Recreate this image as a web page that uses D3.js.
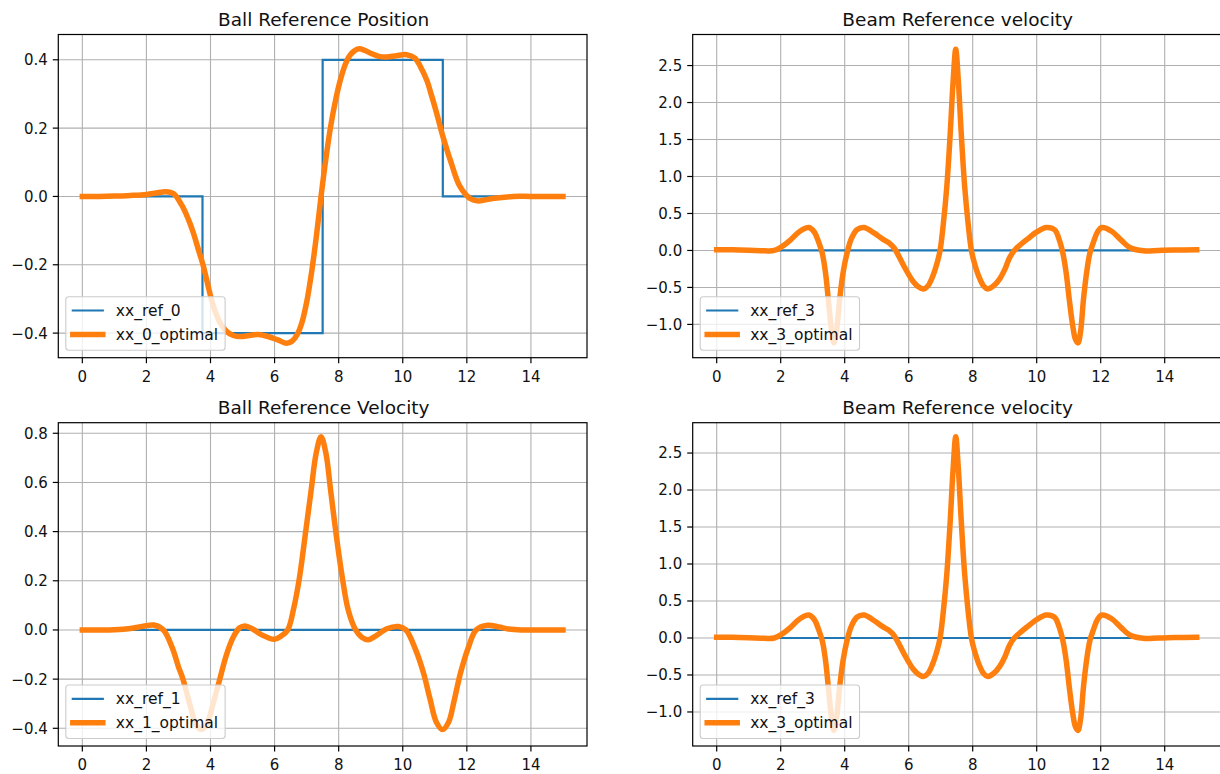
<!DOCTYPE html>
<html>
<head>
<meta charset="utf-8">
<script src="https://cdn.jsdelivr.net/npm/d3@7"></script>
<style>
  html, body { margin: 0; padding: 0; background: #ffffff; }
  svg { display: block; font-family: "DejaVu Sans", sans-serif; }
</style>
</head>
<body>
<svg id="fig" width="1220" height="774"></svg>
<script>
// ---- shared axis ticks ----
const timeTicks = [0, 2, 4, 6, 8, 10, 12, 14];
const posTicks = [-0.4, -0.2, 0.0, 0.2, 0.4];
const velTicks = [-0.4, -0.2, 0.0, 0.2, 0.4, 0.6, 0.8];
const beamTicks = [-1.0, -0.5, 0.0, 0.5, 1.0, 1.5, 2.0, 2.5];

// ---- ball position reference (piecewise constant) ----
const refPosT = [0, 3.75, 7.5, 11.25, 15];
const refPosV = [0, -0.4, 0.4, 0, 0];

// ---- flat references for the velocity states ----
const refFlatT = [0, 15];
const refFlatV = [0, 0];

// ---- optimal ball position ----
const optPosT = [0, 0.5, 1.0, 1.5, 2.0, 2.3, 2.6, 2.85, 3.1, 3.3, 3.46, 3.62, 3.78, 3.92, 4.04, 4.18, 4.3, 4.5, 4.71, 5.0, 5.25, 5.5, 5.8, 6.1, 6.38, 6.55, 6.7, 6.85, 7.0, 7.15, 7.3, 7.45, 7.6, 7.75, 7.9, 8.05, 8.2, 8.35, 8.5, 8.65, 8.8, 8.98, 9.25, 9.5, 9.8, 10.12, 10.38, 10.55, 10.75, 10.9, 11.06, 11.27, 11.53, 11.78, 12.1, 12.36, 12.8, 13.45, 14.0, 15.0];
const optPosV = [0, 0, 0.001, 0.003, 0.006, 0.01, 0.014, 0.008, -0.025, -0.065, -0.105, -0.155, -0.205, -0.26, -0.305, -0.345, -0.37, -0.395, -0.407, -0.41, -0.406, -0.404, -0.41, -0.42, -0.43, -0.423, -0.405, -0.37, -0.31, -0.225, -0.12, 0.0, 0.11, 0.205, 0.28, 0.34, 0.385, 0.413, 0.427, 0.432, 0.428, 0.42, 0.41, 0.408, 0.412, 0.415, 0.405, 0.38, 0.34, 0.295, 0.243, 0.17, 0.093, 0.03, -0.006, -0.013, -0.006, 0, 0, 0];

// ---- optimal ball velocity ----
const optVelT = [0, 0.5, 1.0, 1.5, 1.9, 2.23, 2.53, 2.8, 3.0, 3.14, 3.35, 3.55, 3.71, 3.88, 4.08, 4.29, 4.5, 4.72, 4.9, 5.08, 5.3, 5.6, 5.99, 6.2, 6.41, 6.6, 6.78, 6.95, 7.14, 7.3, 7.45, 7.6, 7.75, 7.93, 8.11, 8.3, 8.53, 8.72, 8.92, 9.15, 9.5, 9.87, 10.1, 10.4, 10.65, 10.85, 11.05, 11.24, 11.43, 11.6, 11.8, 12.05, 12.29, 12.65, 13.0, 13.3, 13.7, 14.3, 15.0];
const optVelV = [0, 0, 0.001, 0.006, 0.015, 0.02, 0.0, -0.07, -0.15, -0.2, -0.3, -0.385, -0.405, -0.385, -0.3, -0.2, -0.1, -0.027, 0.008, 0.016, 0.005, -0.02, -0.038, -0.025, 0.0, 0.09, 0.216, 0.38, 0.567, 0.72, 0.786, 0.72, 0.567, 0.38, 0.216, 0.08, 0.0, -0.03, -0.04, -0.025, 0.005, 0.014, 0.0, -0.08, -0.176, -0.28, -0.375, -0.405, -0.375, -0.29, -0.176, -0.07, 0.0, 0.019, 0.012, 0.004, 0.0, 0.0, 0.0];

// ---- optimal beam velocity ----
const optBeamT = [0, 0.5, 1.0, 1.5, 1.8, 2.03, 2.3, 2.6, 2.88, 3.05, 3.18, 3.3, 3.4, 3.49, 3.58, 3.66, 3.74, 3.84, 3.95, 4.07, 4.2, 4.38, 4.6, 4.9, 5.2, 5.42, 5.55, 5.67, 5.9, 6.14, 6.3, 6.46, 6.6, 6.75, 6.88, 6.98, 7.08, 7.19, 7.3, 7.39, 7.47, 7.55, 7.64, 7.75, 7.86, 7.96, 8.06, 8.19, 8.34, 8.47, 8.65, 8.85, 9.0, 9.15, 9.3, 9.5, 9.7, 10.0, 10.3, 10.56, 10.7, 10.82, 10.92, 11.02, 11.12, 11.21, 11.29, 11.37, 11.46, 11.56, 11.66, 11.78, 11.9, 12.04, 12.34, 12.64, 12.91, 13.33, 13.8, 14.3, 15.0];
const optBeamV = [0.01, 0.01, 0.004, -0.005, 0.0, 0.05, 0.14, 0.26, 0.31, 0.25, 0.12, -0.04, -0.3, -0.67, -1.05, -1.25, -1.1, -0.67, -0.3, -0.04, 0.15, 0.28, 0.31, 0.24, 0.15, 0.09, 0.03, -0.06, -0.25, -0.42, -0.49, -0.52, -0.48, -0.35, -0.18, 0.0, 0.35, 0.86, 1.6, 2.3, 2.72, 2.3, 1.6, 0.86, 0.35, 0.0, -0.18, -0.35, -0.48, -0.52, -0.48, -0.38, -0.26, -0.1, 0.0, 0.08, 0.15, 0.25, 0.31, 0.28, 0.15, -0.04, -0.3, -0.67, -1.0, -1.2, -1.25, -1.1, -0.67, -0.3, -0.04, 0.12, 0.25, 0.31, 0.26, 0.14, 0.04, -0.005, 0.0, 0.005, 0.01];

const BLUE = "#1f77b4", ORANGE = "#ff7f0e";

const panels = [
  { title: "Ball Reference Position", left: 58.3, right: 587, top: 34.5, bottom: 357.7,
    yDomain: [-0.472, 0.474], yTicks: posTicks,
    refT: refPosT, refV: refPosV, refStep: true, optT: optPosT, optV: optPosV,
    labels: ["xx_ref_0", "xx_0_optimal"] },
  { title: "Beam Reference velocity", left: 692.7, right: 1220.7, top: 34.5, bottom: 357.7,
    yDomain: [-1.45, 2.92], yTicks: beamTicks,
    refT: refFlatT, refV: refFlatV, refStep: false, optT: optBeamT, optV: optBeamV,
    labels: ["xx_ref_3", "xx_3_optimal"] },
  { title: "Ball Reference Velocity", left: 58.3, right: 587, top: 422.7, bottom: 746,
    yDomain: [-0.472, 0.843], yTicks: velTicks,
    refT: refFlatT, refV: refFlatV, refStep: false, optT: optVelT, optV: optVelV,
    labels: ["xx_ref_1", "xx_1_optimal"] },
  { title: "Beam Reference velocity", left: 692.7, right: 1220.7, top: 422.7, bottom: 746,
    yDomain: [-1.46, 2.91], yTicks: beamTicks,
    refT: refFlatT, refV: refFlatV, refStep: false, optT: optBeamT, optV: optBeamV,
    labels: ["xx_ref_3", "xx_3_optimal"] }
];

const svg = d3.select("#fig");
svg.append("rect").attr("width", 1220).attr("height", 774).attr("fill", "#ffffff");
const fmt = d3.format(".1f");

panels.forEach((p, i) => {
  const x = d3.scaleLinear().domain([-0.75, 15.75]).range([p.left, p.right]);
  const y = d3.scaleLinear().domain(p.yDomain).range([p.bottom, p.top]);
  const g = svg.append("g");

  const clipId = "clip" + i;
  g.append("clipPath").attr("id", clipId).append("rect")
    .attr("x", p.left).attr("y", p.top)
    .attr("width", p.right - p.left).attr("height", p.bottom - p.top);

  // grid
  const grid = g.append("g").attr("stroke", "#b0b0b0").attr("stroke-width", 1.1);
  timeTicks.forEach(t => grid.append("line")
    .attr("x1", x(t)).attr("x2", x(t)).attr("y1", p.top).attr("y2", p.bottom));
  p.yTicks.forEach(v => grid.append("line")
    .attr("x1", p.left).attr("x2", p.right).attr("y1", y(v)).attr("y2", y(v)));

  // series
  const plot = g.append("g").attr("clip-path", `url(#${clipId})`);
  const refLine = d3.line().x(d => x(d[0])).y(d => y(d[1]))
    .curve(p.refStep ? d3.curveStepAfter : d3.curveLinear);
  plot.append("path")
    .datum(d3.zip(p.refT, p.refV))
    .attr("d", refLine)
    .attr("fill", "none").attr("stroke", BLUE).attr("stroke-width", 2.2)
    .attr("stroke-linecap", "square");
  const optLine = d3.line().x(d => x(d[0])).y(d => y(d[1])).curve(d3.curveCatmullRom.alpha(0.5));
  plot.append("path")
    .datum(d3.zip(p.optT, p.optV))
    .attr("d", optLine)
    .attr("fill", "none").attr("stroke", ORANGE).attr("stroke-width", 5.5)
    .attr("stroke-linecap", "square").attr("stroke-linejoin", "round");

  // spines
  g.append("rect")
    .attr("x", p.left).attr("y", p.top)
    .attr("width", p.right - p.left).attr("height", p.bottom - p.top)
    .attr("fill", "none").attr("stroke", "#000").attr("stroke-width", 1.2);

  // x axis
  const xAxis = g.append("g");
  timeTicks.forEach(t => {
    xAxis.append("line").attr("x1", x(t)).attr("x2", x(t))
      .attr("y1", p.bottom).attr("y2", p.bottom + 5.5)
      .attr("stroke", "#000").attr("stroke-width", 1.2);
    xAxis.append("text").attr("x", x(t)).attr("y", p.bottom + 24)
      .attr("text-anchor", "middle").attr("font-size", 15).attr("fill", "#111")
      .text(t);
  });

  // y axis
  const yAxis = g.append("g");
  p.yTicks.forEach(v => {
    yAxis.append("line").attr("x1", p.left - 5.5).attr("x2", p.left)
      .attr("y1", y(v)).attr("y2", y(v))
      .attr("stroke", "#000").attr("stroke-width", 1.2);
    yAxis.append("text").attr("x", p.left - 10.5).attr("y", y(v)).attr("dy", "0.36em")
      .attr("text-anchor", "end").attr("font-size", 15).attr("fill", "#111")
      .text(fmt(v));
  });

  // title
  g.append("text").attr("x", (p.left + p.right) / 2 + 1).attr("y", p.top - 8.5)
    .attr("text-anchor", "middle").attr("font-size", 18.5).attr("fill", "#111")
    .text(p.title);

  // legend (lower left)
  const lg = g.append("g");
  const boxX = p.left + 7.5, boxH = 53.5, boxY = p.bottom - 7.5 - boxH;
  const box = lg.append("rect").attr("x", boxX).attr("y", boxY).attr("height", boxH)
    .attr("rx", 3).attr("fill", "#ffffff").attr("fill-opacity", 0.8)
    .attr("stroke", "#cccccc").attr("stroke-width", 1.1);
  const rows = [
    { label: p.labels[0], color: BLUE, width: 2.2 },
    { label: p.labels[1], color: ORANGE, width: 5.5 }
  ];
  let maxW = 0;
  rows.forEach((r, k) => {
    const cy = boxY + 13.8 + k * 24;
    lg.append("line").attr("x1", boxX + 7).attr("x2", boxX + 37)
      .attr("y1", cy).attr("y2", cy)
      .attr("stroke", r.color).attr("stroke-width", r.width).attr("stroke-linecap", "square");
    const t = lg.append("text").attr("x", boxX + 50).attr("y", cy).attr("dy", "0.36em")
      .attr("font-size", 15.5).attr("fill", "#111").text(r.label);
    maxW = Math.max(maxW, t.node().getComputedTextLength());
  });
  box.attr("width", 50 + maxW + 7);
});
</script>
</body>
</html>
